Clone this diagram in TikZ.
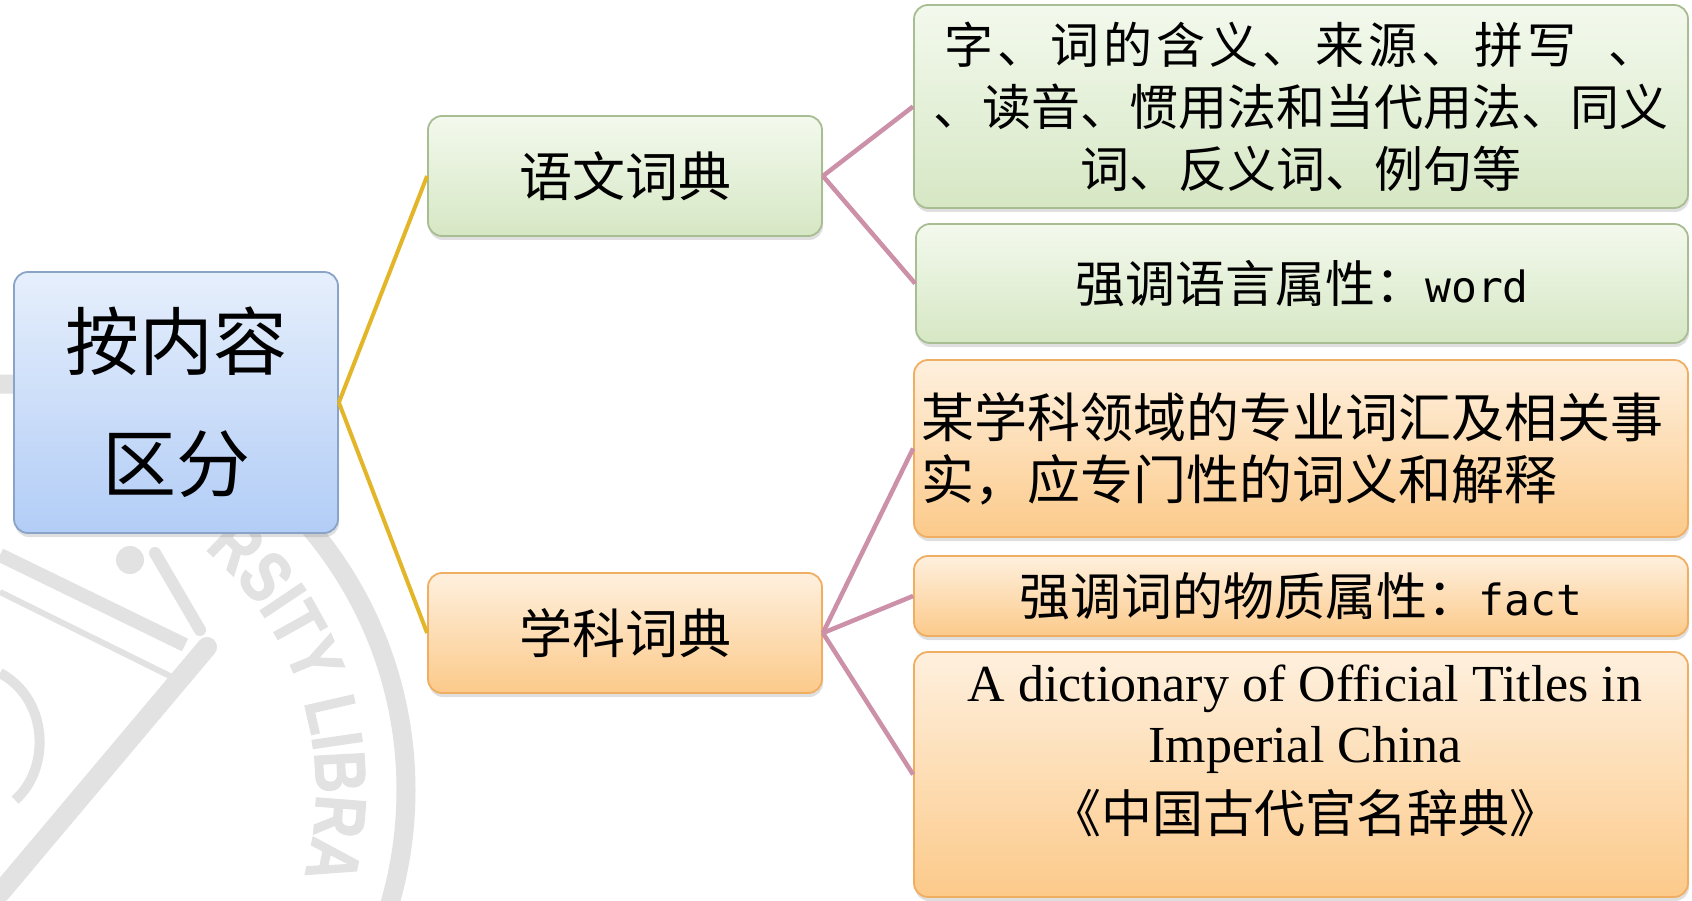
\documentclass[tikz,border=0pt]{standalone}
\usepackage{fontspec}
\setmainfont{Noto Sans CJK SC}
\newfontfamily\cjkf{Noto Sans CJK SC}
\newfontfamily\monof{DejaVu Sans Mono}
\newfontfamily\timesf{Liberation Serif}
\newfontfamily\wmfont{Liberation Sans}[FakeStretch=0.8,FakeBold=1.5]
\usetikzlibrary{shadows,decorations.text}
\definecolor{bluetop}{HTML}{E6EFFC}
\definecolor{bluebot}{HTML}{B2CDF6}
\definecolor{bluebd}{HTML}{8AA4C8}
\definecolor{greentop}{HTML}{F3F9ED}
\definecolor{greenbot}{HTML}{D6E7C4}
\definecolor{greenbd}{HTML}{A8BD92}
\definecolor{orangetop}{HTML}{FEF0DE}
\definecolor{orangebot}{HTML}{FCCA8A}
\definecolor{orangebd}{HTML}{F0AE62}
\definecolor{yline}{HTML}{E3B62A}
\definecolor{pline}{HTML}{CC90A8}
\definecolor{wmgray}{HTML}{E2E2E2}
\newcommand\wmstyle{\wmfont\bfseries\fontsize{72}{72}\selectfont\color{wmgray}}
\newcommand\lsp{\kern4pt\relax}
\tikzset{
  box/.style={rectangle, rounded corners=14pt, line width=1.8pt, inner sep=0pt, align=center,
    drop shadow={opacity=0.25, shadow xshift=1pt, shadow yshift=-4pt}},
  bluebox/.style={box, draw=bluebd, top color=bluetop, bottom color=bluebot},
  greenbox/.style={box, draw=greenbd, top color=greentop, bottom color=greenbot},
  orangebox/.style={box, draw=orangebd, top color=orangetop, bottom color=orangebot},
  yl/.style={draw=yline, line width=4pt},
  pl/.style={draw=pline, line width=4.5pt},
  wm/.style={draw=wmgray},
}
\begin{document}
\begin{tikzpicture}[x=1pt,y=1pt]
\useasboundingbox (0,0) rectangle (1692,-901);
\fill[white] (0,0) rectangle (1692,-901);
% watermark (faint library seal)
\coordinate (wmc) at (0,-790);
\draw[wm, line width=19pt] (wmc) circle[radius=406];
\path[decorate, decoration={text along path, text={|\wmstyle|RSITY LIBRA}, text align=center}]
  (wmc) ++(51:316) arc[start angle=51, end angle=-17, radius=316];
\draw[wm, line width=14pt] (0,-555) -- (185,-645);
\draw[wm, line width=6pt] (0,-592) -- (178,-680);
\draw[wm, line width=20pt, line cap=round] (207,-647) -- (0,-893);
\draw[wm, line width=12pt, line cap=round] (155,-553) -- (200,-630);
\fill[wmgray] (130,-560) circle[radius=14];
\draw[wm, line width=10pt] (0,-673) .. controls (50,-700) and (50,-770) .. (15,-800);
% nodes
\node[bluebox, minimum width=324pt, minimum height=261pt, font=\fontsize{74}{122}\selectfont]
  (root) at (176,-402.5) {按内容\\区分};
\node[greenbox, minimum width=394pt, minimum height=120pt, font=\fontsize{53}{62}\selectfont]
  (yw) at (625,-176) {语文词典};
\node[orangebox, minimum width=394pt, minimum height=120pt, font=\fontsize{53}{62}\selectfont]
  (xk) at (625,-633) {学科词典};
\node[greenbox, minimum width=774pt, minimum height=203pt, font=\fontsize{49}{62}\selectfont]
  (r1) at (1301,-106.5) {字\lsp{}、\lsp{}词\lsp{}的\lsp{}含\lsp{}义\lsp{}、\lsp{}来\lsp{}源\lsp{}、\lsp{}拼\lsp{}写\hspace{32pt}、\\、读音、惯用法和当代用法、同义\\词、反义词、例句等};
\node[greenbox, minimum width=772pt, minimum height=119pt, font=\fontsize{50}{62}\selectfont]
  (r2) at (1302,-283.5) {强调语言属性：{\monof\fontsize{43}{43}\selectfont word}};
\node[orangebox, minimum width=774pt, minimum height=177pt, text width=760pt, align=left,
  font=\fontsize{53}{62}\selectfont]
  (r3) at (1301,-448.5) {某学科领域的专业词汇及相关事\\实，应专门性的词义和解释};
\node[orangebox, minimum width=774pt, minimum height=80pt, font=\fontsize{51}{62}\selectfont]
  (r4) at (1301,-596) {强调词的物质属性：{\monof\fontsize{43}{43}\selectfont fact}};
\node[orangebox, minimum width=774pt, minimum height=245pt] (r5) at (1301,-774.5) {};
\node[anchor=north, align=center, inner sep=0pt, font=\fontsize{52}{61}\selectfont\timesf]
  (r5text) at (1305,-665) {A dictionary of Official Titles in\\Imperial China\\[9pt]{\fontsize{51}{61}\selectfont\cjkf 《中国古代官名辞典》}};
% connectors
\draw[yl] (root.east) -- (yw.west);
\draw[yl] (root.east) -- (xk.west);
\draw[pl] (yw.east) -- (r1.west);
\draw[pl] (yw.east) -- (r2.west);
\draw[pl] (xk.east) -- (r3.west);
\draw[pl] (xk.east) -- (r4.west);
\draw[pl] (xk.east) -- (r5.west);
\end{tikzpicture}
\end{document}
